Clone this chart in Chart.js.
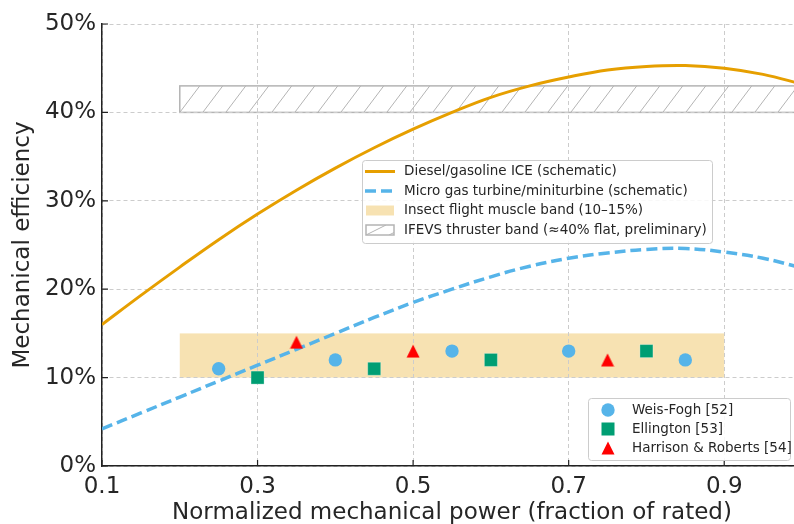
<!DOCTYPE html>
<html>
<head>
<meta charset="utf-8">
<script src="https://cdn.jsdelivr.net/npm/chart.js@4.4.0/dist/chart.umd.min.js"></script>
<style>
  html, body { margin: 0; padding: 0; background: #fff; }
  #wrap { width: 794px; height: 524px; overflow: hidden; }
</style>
</head>
<body>
<div id="wrap"><canvas id="graficoEficiencia" width="812" height="524"></canvas></div>
<script>
// valores
const potencia = [0.1, 0.15, 0.2, 0.25, 0.3, 0.35, 0.4, 0.45, 0.5, 0.55, 0.6, 0.65, 0.7, 0.75, 0.8, 0.85, 0.9, 0.95, 1.0];
const dieselICE = [16.0, 19.3, 22.5, 25.6, 28.5, 31.2, 33.7, 36.0, 38.1, 40.0, 41.7, 43.0, 44.0, 44.8, 45.2, 45.3, 45.0, 44.3, 43.2];
const microTurbina = [4.2, 6.0, 7.8, 9.6, 11.4, 13.2, 15.0, 16.8, 18.5, 20.0, 21.4, 22.6, 23.5, 24.1, 24.5, 24.6, 24.2, 23.5, 22.4];

const weisFoghX = [0.25, 0.4, 0.55, 0.7, 0.85];
const weisFoghY = [11, 12, 13, 13, 12];
const ellingtonX = [0.3, 0.45, 0.6, 0.8];
const ellingtonY = [10, 11, 12, 13];
const harrisonX = [0.35, 0.5, 0.75];
const harrisonY = [14, 13, 12];

const bandaMusculoX = [0.2, 0.9];
const bandaMusculoY = [10, 15];
const bandaIfevsX = [0.2, 1.0];
const bandaIfevsY = [40, 43];

const ticksX = [0.1, 0.3, 0.5, 0.7, 0.9];
const ticksY = [0, 10, 20, 30, 40, 50];

const FONTE = '"DejaVu Sans", sans-serif';
const COR_TEXTO = '#262626';
const LARANJA = '#E69F00';
const AZUL = '#56B4E9';
const VERDE = '#009E73';
const VERMELHO = '#ff0000';
const COR_HACHURA = '#b4b4b4';

function pontos(xs, ys) {
  return xs.map((x, i) => ({ x: x, y: ys[i] }));
}

// triângulo centrado na caixa, como o '^' do matplotlib
function marcadorTriangulo(tam, cor) {
  const c = document.createElement('canvas');
  c.width = tam; c.height = tam;
  const g = c.getContext('2d');
  g.fillStyle = cor;
  g.beginPath();
  g.moveTo(tam / 2, 0.5);
  g.lineTo(tam - 0.5, tam - 0.5);
  g.lineTo(0.5, tam - 0.5);
  g.closePath();
  g.fill();
  return c;
}
const triangulo = marcadorTriangulo(14, VERMELHO);

function hachura(ctx, x0, y0, x1, y1) {
  const passo = 23;
  const dx = 20;
  ctx.save();
  ctx.beginPath();
  ctx.rect(x0, y0, x1 - x0, y1 - y0);
  ctx.clip();
  ctx.strokeStyle = COR_HACHURA;
  ctx.lineWidth = 1;
  ctx.beginPath();
  for (let x = x0 - passo; x < x1 + passo; x += passo) {
    ctx.moveTo(x, y1);
    ctx.lineTo(x + dx, y0);
  }
  ctx.stroke();
  ctx.restore();
}

const pluginBandas = {
  id: 'bandas',
  beforeDraw(chart) {
    const { ctx, scales: { x, y } } = chart;
    // faixa do músculo de voo
    const mx0 = x.getPixelForValue(bandaMusculoX[0]), mx1 = x.getPixelForValue(bandaMusculoX[1]);
    const my0 = y.getPixelForValue(bandaMusculoY[1]), my1 = y.getPixelForValue(bandaMusculoY[0]);
    ctx.save();
    ctx.fillStyle = 'rgba(230, 159, 0, 0.3)';
    ctx.fillRect(mx0, my0, mx1 - mx0, my1 - my0);
    // faixa IFEVS hachurada
    const ix0 = x.getPixelForValue(bandaIfevsX[0]), ix1 = x.getPixelForValue(bandaIfevsX[1]);
    const iy0 = y.getPixelForValue(bandaIfevsY[1]), iy1 = y.getPixelForValue(bandaIfevsY[0]);
    ctx.fillStyle = '#ffffff';
    ctx.fillRect(ix0, iy0, ix1 - ix0, iy1 - iy0);
    hachura(ctx, ix0, iy0, ix1, iy1);
    ctx.strokeStyle = COR_HACHURA;
    ctx.lineWidth = 1.5;
    ctx.strokeRect(ix0, iy0, ix1 - ix0, iy1 - iy0);
    ctx.restore();
  }
};

// marcas de escala para dentro
const pluginTicks = {
  id: 'ticksDentro',
  afterDatasetsDraw(chart) {
    const { ctx, chartArea, scales: { x, y } } = chart;
    ctx.save();
    ctx.strokeStyle = '#222';
    ctx.lineWidth = 1.2;
    ctx.beginPath();
    ticksX.forEach(v => {
      const px = x.getPixelForValue(v);
      ctx.moveTo(px, chartArea.bottom);
      ctx.lineTo(px, chartArea.bottom - 6);
    });
    ticksY.forEach(v => {
      const py = y.getPixelForValue(v);
      ctx.moveTo(chartArea.left, py);
      ctx.lineTo(chartArea.left + 6, py);
    });
    ctx.stroke();
    ctx.restore();
  }
};

function caixaLegenda(ctx, x, y, w, h) {
  ctx.save();
  ctx.fillStyle = 'rgba(255,255,255,0.85)';
  ctx.strokeStyle = '#cccccc';
  ctx.lineWidth = 1;
  ctx.beginPath();
  ctx.roundRect(x + 0.5, y + 0.5, w, h, 3);
  ctx.fill();
  ctx.stroke();
  ctx.restore();
}

const pluginLegendas = {
  id: 'legendas',
  afterDraw(chart) {
    const ctx = chart.ctx;
    ctx.save();
    ctx.font = '13.5px ' + FONTE;
    ctx.fillStyle = COR_TEXTO;
    ctx.textBaseline = 'middle';

    // legenda das curvas e faixas
    caixaLegenda(ctx, 362, 160, 350, 83);
    const linhas1 = [171.5, 191, 210.5, 230];
    ctx.lineWidth = 3;
    ctx.strokeStyle = LARANJA;
    ctx.beginPath(); ctx.moveTo(365, linhas1[0]); ctx.lineTo(395, linhas1[0]); ctx.stroke();
    ctx.strokeStyle = AZUL;
    ctx.lineWidth = 3.5;
    ctx.setLineDash([11, 5]);
    ctx.beginPath(); ctx.moveTo(365, linhas1[1]); ctx.lineTo(395, linhas1[1]); ctx.stroke();
    ctx.setLineDash([]);
    ctx.fillStyle = 'rgba(230, 159, 0, 0.3)';
    ctx.fillRect(366, linhas1[2] - 5, 28, 10);
    ctx.fillStyle = '#fff';
    ctx.fillRect(366, linhas1[3] - 5, 28, 10);
    hachura(ctx, 366, linhas1[3] - 5, 394, linhas1[3] + 5);
    ctx.strokeStyle = COR_HACHURA;
    ctx.lineWidth = 1.5;
    ctx.strokeRect(366, linhas1[3] - 5, 28, 10);
    ctx.fillStyle = COR_TEXTO;
    ctx.fillText('Diesel/gasoline ICE (schematic)', 404, linhas1[0]);
    ctx.fillText('Micro gas turbine/miniturbine (schematic)', 404, linhas1[1]);
    ctx.fillText('Insect flight muscle band (10\u201315%)', 404, linhas1[2]);
    ctx.fillText('IFEVS thruster band (\u224840% flat, preliminary)', 404, linhas1[3]);

    // legenda dos dados de insetos
    caixaLegenda(ctx, 588, 398, 202, 62);
    const linhas2 = [410, 429, 448];
    ctx.fillStyle = AZUL;
    ctx.beginPath(); ctx.arc(608, linhas2[0], 6.7, 0, Math.PI * 2); ctx.fill();
    ctx.fillStyle = VERDE;
    ctx.fillRect(608 - 6.5, linhas2[1] - 6.5, 13, 13);
    ctx.drawImage(triangulo, 608 - 7, linhas2[2] - 7);
    ctx.fillStyle = COR_TEXTO;
    ctx.fillText('Weis-Fogh [52]', 632, linhas2[0]);
    ctx.fillText('Ellington [53]', 632, linhas2[1]);
    ctx.fillText('Harrison & Roberts [54]', 632, linhas2[2]);
    ctx.restore();
  }
};

const data = {
  datasets: [
    {
      label: 'Harrison & Roberts [54]',
      data: pontos(harrisonX, harrisonY),
      pointStyle: triangulo,
      pointRadius: 7
    },
    {
      label: 'Ellington [53]',
      data: pontos(ellingtonX, ellingtonY),
      pointStyle: 'rect',
      pointRadius: 9.2,
      backgroundColor: VERDE,
      borderColor: 'rgba(255,255,255,0.5)',
      borderWidth: 0.6
    },
    {
      label: 'Weis-Fogh [52]',
      data: pontos(weisFoghX, weisFoghY),
      pointStyle: 'circle',
      pointRadius: 6.7,
      backgroundColor: AZUL,
      borderWidth: 0
    },
    {
      label: 'Micro gas turbine/miniturbine (schematic)',
      data: pontos(potencia, microTurbina),
      showLine: true,
      borderColor: AZUL,
      borderWidth: 3.5,
      borderDash: [11, 5],
      pointRadius: 0,
      tension: 0.4
    },
    {
      label: 'Diesel/gasoline ICE (schematic)',
      data: pontos(potencia, dieselICE),
      showLine: true,
      borderColor: LARANJA,
      borderWidth: 3,
      pointRadius: 0,
      tension: 0.4
    }
  ]
};

const config = {
  type: 'scatter',
  data: data,
  plugins: [pluginBandas, pluginTicks, pluginLegendas],
  options: {
    responsive: false,
    animation: false,
    devicePixelRatio: 1,
    layout: { padding: { top: 24, right: 10, left: 0, bottom: 0 } },
    plugins: {
      legend: { display: false },
      tooltip: { enabled: false }
    },
    scales: {
      x: {
        type: 'linear',
        min: 0.1,
        max: 1.0,
        afterBuildTicks: s => { s.ticks = ticksX.map(v => ({ value: v })); },
        afterFit: s => { s.height = 58; },
        ticks: {
          autoSkip: false,
          maxRotation: 0,
          padding: 7,
          color: COR_TEXTO,
          font: { family: FONTE, size: 23 },
          callback: v => v.toFixed(1)
        },
        grid: { color: '#cccccc', lineWidth: 1, drawTicks: false },
        border: { color: '#222', width: 1.5, dash: [4, 3] },
        title: {
          display: true,
          text: 'Normalized mechanical power (fraction of rated)',
          color: COR_TEXTO,
          font: { family: FONTE, size: 23, lineHeight: 1 },
          padding: { top: 0, bottom: -0.5 }
        }
      },
      y: {
        min: 0,
        max: 50,
        afterBuildTicks: s => { s.ticks = ticksY.map(v => ({ value: v })); },
        afterFit: s => { s.width = 102; },
        ticks: {
          autoSkip: false,
          padding: 6,
          color: COR_TEXTO,
          font: { family: FONTE, size: 23 },
          callback: v => v + '%'
        },
        grid: { color: '#cccccc', lineWidth: 1, drawTicks: false },
        border: { color: '#222', width: 1.5, dash: [4, 3] },
        title: {
          display: true,
          text: 'Mechanical efficiency',
          color: COR_TEXTO,
          font: { family: FONTE, size: 23, lineHeight: 1.2 },
          padding: { top: 9, bottom: 0 }
        }
      }
    }
  }
};

new Chart(document.getElementById('graficoEficiencia').getContext('2d'), config);
</script>
</body>
</html>
